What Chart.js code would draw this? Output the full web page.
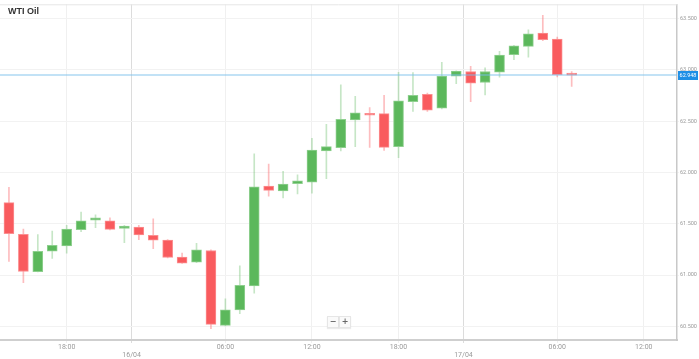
<!DOCTYPE html>
<html>
<head>
<meta charset="utf-8">
<script src="https://cdn.jsdelivr.net/npm/chart.js@4/dist/chart.umd.min.js"></script>
<style>
  html, body { margin: 0; padding: 0; background: #fff; }
  #wrap { position: relative; width: 699px; height: 359px; }
  #title {
    position: absolute; left: 8px; top: 6px;
    font: bold 9px "Liberation Sans", Arial, sans-serif; color: #333;
  }
  #zoom { position: absolute; left: 327px; top: 316px; display: flex; }
  #zoom span {
    width: 10px; height: 10px; line-height: 9px; text-align: center;
    font: bold 8px "DejaVu Sans", sans-serif; color: #666;
    background: #fafafa; border: 1px solid #e6e6e6; box-shadow: 0 1px 1px rgba(0,0,0,0.08);
  }
</style>
</head>
<body>
<div id="wrap">
  <canvas id="c" width="699" height="359"></canvas>
  <div id="title">WTI Oil</div>
  <div id="zoom"><span>−</span><span>+</span></div>
</div>
<script>
"use strict";

/* ── Hourly candles (slot index = hour bar, 23:00 gap skipped) ─────────── */
const opens  = [61.706, 61.397, 61.032, 61.232, 61.284, 61.442, 61.535, 61.529, 61.455, 61.468,
                61.387, 61.342, 61.174, 61.126, 61.239, 60.510, 60.661, 60.894, 61.868, 61.819,
                61.890, 61.906, 62.210, 62.242, 62.513, 62.575, 62.574, 62.252, 62.690, 62.761,
                62.626, 62.939, 62.984, 62.877, 62.977, 63.148, 63.229, 63.358, 63.300, 62.955];
const closes = [61.403, 61.035, 61.232, 61.290, 61.448, 61.529, 61.558, 61.445, 61.477, 61.390,
                61.339, 61.171, 61.116, 61.245, 60.519, 60.661, 60.900, 61.861, 61.826, 61.887,
                61.919, 62.219, 62.252, 62.519, 62.581, 62.558, 62.245, 62.697, 62.752, 62.606,
                62.939, 62.987, 62.871, 62.984, 63.145, 63.235, 63.352, 63.294, 62.952, 62.948];
const highs  = [61.855, 61.448, 61.394, 61.429, 61.484, 61.613, 61.587, 61.558, 61.484, 61.484,
                61.548, 61.345, 61.213, 61.310, 61.245, 60.768, 61.090, 62.181, 62.081, 62.010,
                61.977, 62.332, 62.468, 62.855, 62.742, 62.632, 62.752, 62.977, 62.974, 62.774,
                63.074, 62.990, 63.035, 63.019, 63.181, 63.240, 63.390, 63.532, 63.319, 62.984];
const lows   = [61.132, 60.926, 61.030, 61.161, 61.213, 61.423, 61.461, 61.439, 61.316, 61.345,
                61.258, 61.168, 61.113, 61.120, 60.477, 60.505, 60.623, 60.823, 61.768, 61.752,
                61.790, 61.797, 61.939, 62.210, 62.252, 62.245, 62.216, 62.145, 62.594, 62.594,
                62.620, 62.865, 62.690, 62.755, 62.929, 63.100, 63.123, 63.284, 62.932, 62.839];

/* ── Axis ticks ───────────────────────────────────────────────────────── */
const xTickPos    = [4, 8.5, 15, 21, 27, 31.5, 38, 44];
const xTickLabels = ["18:00", "16/04", "06:00", "12:00", "18:00", "17/04", "06:00", "12:00"];
const dateTicks   = [8.5, 31.5];
const yTicks      = [60.5, 61.0, 61.5, 62.0, 62.5, 63.0, 63.5];
const lastPrice   = 62.948;

const GREEN = "#5cb85c", RED = "#f95b5e";
const up = opens.map((o, i) => closes[i] >= o);

const bodies = opens.map((o, i) => ({ x: i, y: [o, closes[i]] }));
const wicks  = lows.map((l, i) => ({ x: i, y: [l, highs[i]] }));

/* ── Extra drawing: top border + last price line/label ─────────────────── */
const overlay = {
  id: "overlay",
  beforeDatasetsDraw(chart) {
    const { ctx, chartArea: a } = chart;
    ctx.save();
    ctx.strokeStyle = "#e6e6e6"; ctx.lineWidth = 1;
    ctx.beginPath(); ctx.moveTo(a.left, a.top + 0.5); ctx.lineTo(a.right, a.top + 0.5); ctx.stroke();
    ctx.restore();
  },
  afterDatasetsDraw(chart) {
    const { ctx, chartArea: a, scales } = chart;
    const y = Math.round(scales.y.getPixelForValue(lastPrice));
    ctx.save();
    ctx.strokeStyle = "rgba(120,190,235,0.45)"; ctx.lineWidth = 2;
    ctx.beginPath(); ctx.moveTo(a.left, y); ctx.lineTo(a.right, y); ctx.stroke();
    ctx.fillStyle = "#1e8fe6";
    ctx.fillRect(a.right + 1, y - 4, 20, 9);
    ctx.fillStyle = "#fff";
    ctx.font = "5.5px Roboto, sans-serif";
    ctx.textAlign = "center"; ctx.textBaseline = "middle";
    ctx.fillText(lastPrice.toFixed(3), a.right + 11, y + 0.5);
    ctx.restore();
  },
};

new Chart(document.getElementById("c"), {
  type: "bar",
  data: {
    datasets: [
      {
        data: bodies, order: 0, grouped: false,
        barThickness: 10, minBarLength: 2,
        backgroundColor: up.map(u => (u ? GREEN : RED)),
        borderColor: up.map(u => (u ? "#8fd08f" : "#fb8f91")),
        borderWidth: 1, borderSkipped: false,
      },
      {
        data: wicks, order: 1, grouped: false,
        barThickness: 1,
        backgroundColor: up.map(u => (u ? "rgba(92,184,92,0.35)" : "rgba(249,91,94,0.4)")),
        borderWidth: 0,
      },
    ],
  },
  options: {
    responsive: false,
    animation: false,
    layout: { padding: { top: 2, left: 0, right: 0, bottom: 0 } },
    plugins: { legend: { display: false }, tooltip: { enabled: false } },
    scales: {
      x: {
        type: "linear", min: -0.62, max: 46.3, offset: false,
        afterBuildTicks: (s) => { s.ticks = xTickPos.map(v => ({ value: v })); },
        afterFit: (s) => { s.height = 19; },
        grid: {
          offset: false,
          color: (c) => (c.tick && dateTicks.includes(c.tick.value) ? "#dcdcdc" : "#f0f0f0"),
          tickLength: 3,
        },
        border: { color: "#cfcfcf", width: 2 },
        ticks: {
          autoSkip: false, maxRotation: 0, padding: 0,
          color: "#9a9a9a", font: { family: "Roboto", size: 7, lineHeight: 1.15 },
          callback: (v) => {
            const i = xTickPos.indexOf(v);
            if (i < 0) return "";
            return dateTicks.includes(v) ? ["", xTickLabels[i]] : xTickLabels[i];
          },
        },
      },
      y: {
        position: "right", min: 60.367, max: 63.639,
        afterBuildTicks: (s) => { s.ticks = yTicks.map(v => ({ value: v })); },
        afterFit: (s) => { s.width = 22; },
        grid: { color: "#f2f2f2", tickLength: 2 },
        border: { color: "#c8c8c8", width: 1.5 },
        ticks: {
          padding: 1, color: "#9a9a9a", font: { family: "Roboto", size: 5.5 },
          callback: (v) => Number(v).toFixed(3),
        },
      },
    },
  },
  plugins: [overlay],
});
</script>
</body>
</html>
